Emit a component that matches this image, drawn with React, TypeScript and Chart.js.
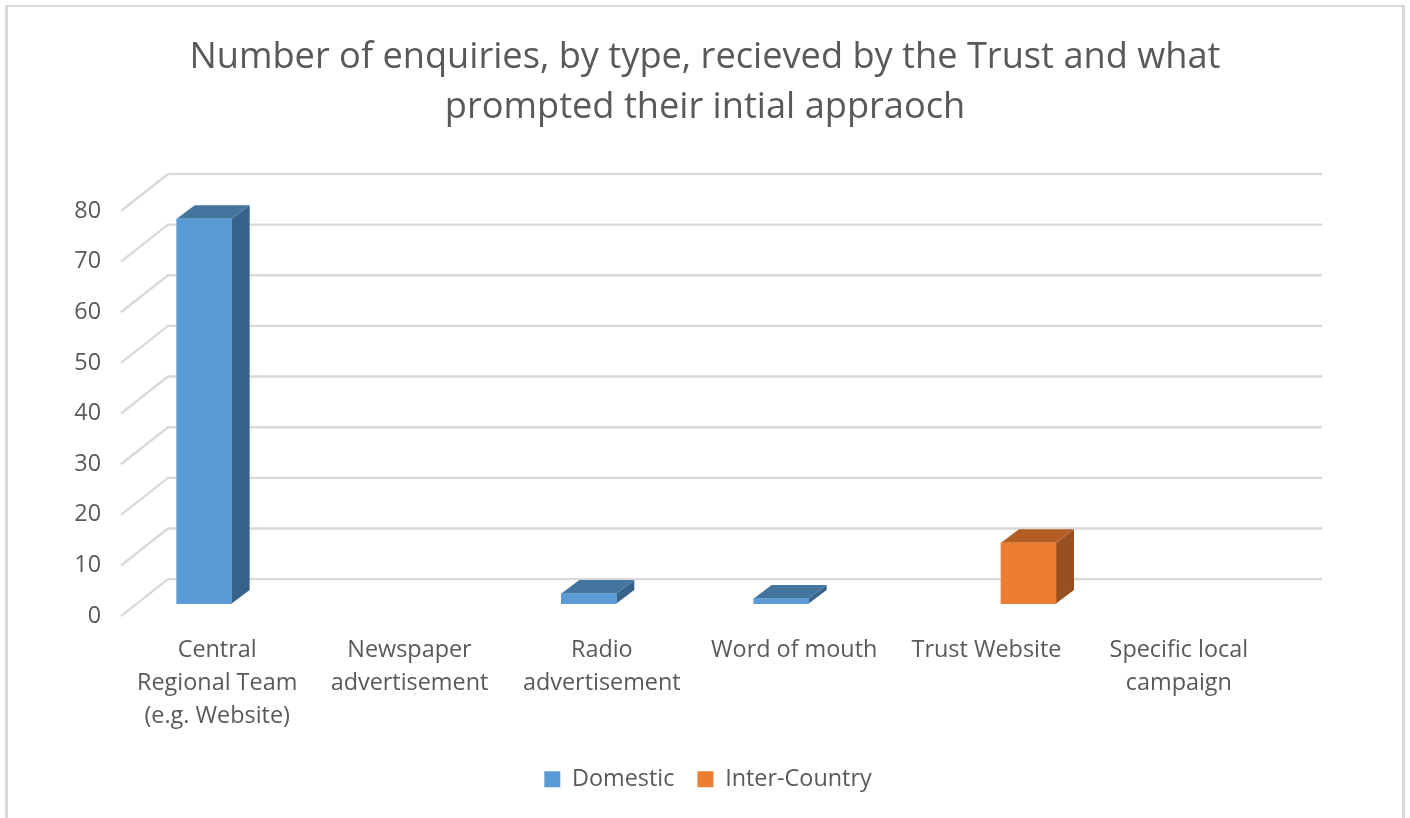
import React, { useEffect, useRef } from "react";
import { Chart, registerables } from "chart.js";

Chart.register(...registerables);

const categories = [
  ["Central", "Regional Team", "(e.g. Website)"],
  ["Newspaper", "advertisement"],
  ["Radio", "advertisement"],
  "Word of mouth",
  "Trust Website",
  ["Specific local", "campaign"],
];
const domestic = [76, null, 2, 1, null, null];
const interCountry = [null, null, null, null, 12, null];
const titleLines = [
  "Number of enquiries, by type, recieved by the Trust and what",
  "prompted their intial appraoch",
];

const FONT = '"Open Sans", sans-serif';
const TEXT = "#595959";
const GRID = "#d9d9d9";
const FACE_COLORS = [
  { front: "#5b9bd5", top: "#44759f", side: "#37628a" },
  { front: "#ed7d31", top: "#b25e25", side: "#985020" },
];
const WALL = { dx: 47, dy: -37 };
const BAR_SHIFT = { dx: 14.5, dy: -12.5 };
const BAR_DEPTH = { dx: 18, dy: -13.5 };
const LEGEND_SHIFT = 3;

const plot3d = {
  id: "plot3d",
  afterLayout(chart: any) {
    chart.legend.left += LEGEND_SHIFT;
    chart.legend.right += LEGEND_SHIFT;
  },
  beforeDatasetsDraw(chart: any) {
    const { ctx, chartArea, scales } = chart;
    const y = scales.y;
    ctx.save();
    ctx.strokeStyle = GRID;
    ctx.lineWidth = 2.4;
    ctx.lineJoin = "miter";
    y.ticks.forEach((t: any) => {
      const py = y.getPixelForValue(t.value);
      ctx.beginPath();
      ctx.moveTo(chartArea.left, py);
      ctx.lineTo(chartArea.left + WALL.dx, py + WALL.dy);
      ctx.lineTo(chartArea.right + WALL.dx, py + WALL.dy);
      ctx.stroke();
    });
    ctx.restore();
  },
  beforeDatasetDraw(chart: any, args: any) {
    const { ctx } = chart;
    const meta = chart.getDatasetMeta(args.index);
    const c = FACE_COLORS[args.index];
    ctx.save();
    ctx.translate(BAR_SHIFT.dx, BAR_SHIFT.dy);
    meta.data.forEach((bar: any, i: number) => {
      if (!chart.data.datasets[args.index].data[i]) return;
      const l = bar.x - bar.width / 2;
      const r = bar.x + bar.width / 2;
      const t = bar.y;
      const b = bar.base;
      ctx.fillStyle = c.side;
      ctx.beginPath();
      ctx.moveTo(r, t);
      ctx.lineTo(r + BAR_DEPTH.dx, t + BAR_DEPTH.dy);
      ctx.lineTo(r + BAR_DEPTH.dx, b + BAR_DEPTH.dy);
      ctx.lineTo(r, b);
      ctx.closePath();
      ctx.fill();
      ctx.fillStyle = c.top;
      ctx.beginPath();
      ctx.moveTo(l, t);
      ctx.lineTo(l + BAR_DEPTH.dx, t + BAR_DEPTH.dy);
      ctx.lineTo(r + BAR_DEPTH.dx, t + BAR_DEPTH.dy);
      ctx.lineTo(r, t);
      ctx.closePath();
      ctx.fill();
    });
  },
  afterDatasetDraw(chart: any) {
    chart.ctx.restore();
  },
};

export default function App() {
  const ref = useRef<HTMLCanvasElement | null>(null);
  useEffect(() => {
    const chart = new Chart(ref.current as HTMLCanvasElement, {
      type: "bar",
      plugins: [plot3d],
      data: {
        labels: categories as any,
        datasets: [
          { label: "Domestic", data: domestic, backgroundColor: FACE_COLORS[0].front, clip: false as any },
          { label: "Inter-Country", data: interCountry, backgroundColor: FACE_COLORS[1].front, clip: false as any },
        ],
      },
      options: {
        animation: false,
        responsive: false,
        devicePixelRatio: 1,
        layout: { padding: { left: 0, right: 0, top: 33, bottom: 17 } },
        datasets: { bar: { barThickness: 55 } },
        plugins: {
          title: {
            display: true,
            text: titleLines,
            color: TEXT,
            font: { family: FONT, size: 36.2, weight: "normal", lineHeight: 50 / 36.2 },
            padding: { top: 0, bottom: 78 },
          },
          legend: {
            position: "bottom",
            labels: {
              color: TEXT,
              font: { family: FONT, size: 23.4 },
              boxWidth: 16,
              boxHeight: 16,
              padding: 23,
            },
          },
          tooltip: { enabled: false },
        },
        scales: {
          x: {
            grid: { display: false },
            border: { display: false },
            ticks: {
              color: TEXT,
              font: { family: FONT, size: 23.4, lineHeight: 1.42 },
              autoSkip: false,
              maxRotation: 0,
              minRotation: 0,
              padding: 9.5,
            },
            afterFit(axis: any) {
              axis.height = 128.5;
            },
          },
          y: {
            min: 0,
            max: 80,
            grid: { display: false },
            border: { display: false },
            ticks: {
              stepSize: 10,
              color: TEXT,
              font: { family: FONT, size: 23.4 },
              padding: 12,
            },
            afterFit(axis: any) {
              axis.width = 121;
            },
          },
          rightGap: {
            type: "linear",
            position: "right",
            display: true,
            grid: { display: false },
            border: { display: false },
            ticks: { display: false },
            afterFit(axis: any) {
              axis.width = 135;
            },
          },
        },
      },
    });
    return () => chart.destroy();
  }, []);
  return (
    <div style={{ position: "absolute", left: 0, top: 0, width: 1410, height: 818, overflow: "hidden", background: "#fff" }}>
      <canvas ref={ref} width={1410} height={818} style={{ display: "block", width: 1410, height: 818 }} />
      <div
        style={{
          position: "absolute",
          left: 5,
          top: 5,
          width: 1394,
          height: 813,
          borderLeft: "3px solid #d9d9d9",
          borderTop: "2px solid #d9d9d9",
          borderRight: "3px solid #d9d9d9",
          pointerEvents: "none",
        }}
      />
    </div>
  );
}
